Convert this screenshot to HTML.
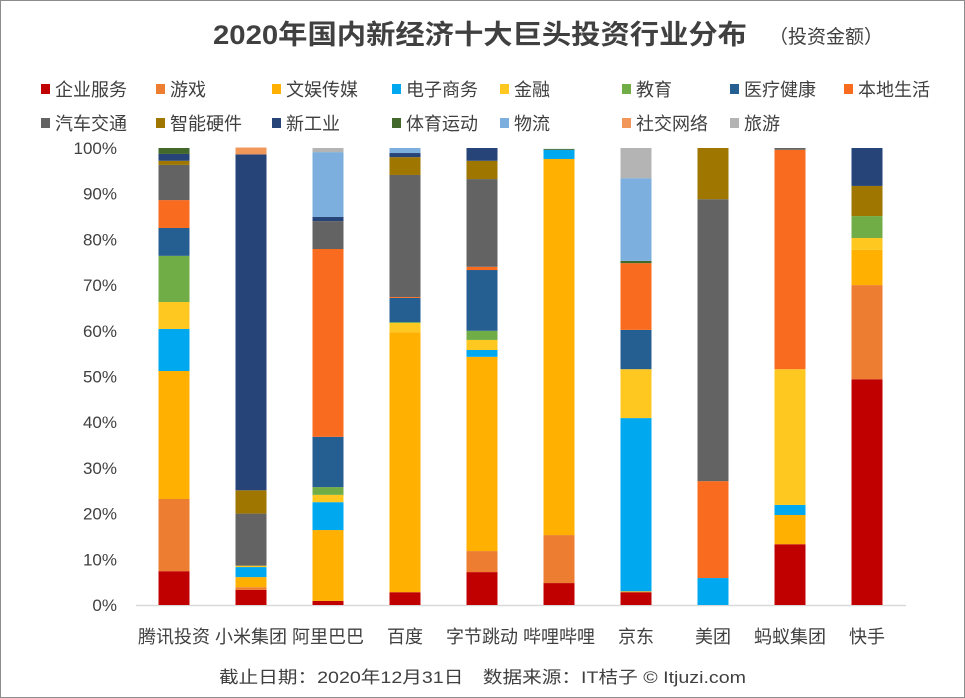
<!DOCTYPE html>
<html><head><meta charset="utf-8">
<style>
html,body{margin:0;padding:0;background:#fff;}
#wrap{position:relative;width:963px;height:696px;border:1px solid #8c8c8c;overflow:hidden;font-family:"Liberation Sans","Noto Sans CJK SC",sans-serif;}
svg text{font-family:"Liberation Sans","Noto Sans CJK SC",sans-serif;}
</style></head>
<body>
<div id="wrap">
<svg id="chart" width="963" height="696">
<text x="212" y="43" font-size="27" font-weight="bold" fill="#404040" textLength="534" lengthAdjust="spacingAndGlyphs">2020年国内新经济十大巨头投资行业分布</text>
<text x="768" y="42" font-size="19" fill="#404040">（投资金额）</text>
<g id="legend"></g>
<g id="grid"></g>
<g id="bars"></g>
<g id="xlabels"></g>
<text x="218" y="682" font-size="17" fill="#404040" textLength="527" lengthAdjust="spacingAndGlyphs">截止日期：2020年12月31日　数据来源：IT桔子 © Itjuzi.com</text>
</svg>
</div>
<script>
const categories = ["腾讯投资","小米集团","阿里巴巴","百度","字节跳动","哔哩哔哩","京东","美团","蚂蚁集团","快手"];
const seriesNames = ["企业服务","游戏","文娱传媒","电子商务","金融","教育","医疗健康","本地生活","汽车交通","智能硬件","新工业","体育运动","物流","社交网络","旅游"];
const seriesColors = ["#C00000","#ED7D31","#FFB000","#00A8F0","#FFC820","#70AD47","#255E91","#F96B1E","#636363","#9E7600","#264478","#43682B","#7CAFDD","#F1975A","#B4B4B4"];
const s_qiye   = [7.4, 3.3, 0.9, 2.8, 7.2, 4.8, 2.8, 0, 13.3, 49.4];
const s_youxi  = [15.8, 0.6, 0, 0, 4.6, 10.5, 0, 0, 0, 20.6];
const s_wenyu  = [28.0, 2.2, 15.5, 56.9, 42.5, 82.3, 0.2, 0, 6.4, 7.7];
const s_dianzi = [9.2, 2.2, 6.1, 0, 1.5, 2.0, 37.9, 5.9, 2.2, 0];
const s_jinrong= [5.9, 0.3, 1.6, 2.0, 2.2, 0, 10.7, 0, 29.7, 2.6];
const s_jiaoyu = [10.1, 0, 1.7, 0.2, 2.0, 0, 0, 0, 0, 4.8];
const s_yiliao = [6.1, 0, 11.0, 5.3, 13.3, 0, 8.6, 0, 0, 0];
const s_bendi  = [6.1, 0, 41.1, 0.2, 0.7, 0, 14.6, 21.2, 48.0, 0];
const s_qiche  = [7.7, 11.4, 6.1, 26.7, 19.2, 0, 0, 61.7, 0.4, 0];
const s_yingjian=[0.9, 5.1, 0, 3.9, 4.0, 0, 0, 11.2, 0, 6.6];
const s_xingong= [1.5, 73.5, 0.9, 0.9, 2.8, 0, 0, 0, 0, 8.3];
const s_tiyu   = [1.3, 0, 0, 0, 0, 0.2, 0.5, 0, 0, 0];
const s_wuliu  = [0, 0, 14.2, 1.1, 0, 0, 18.1, 0, 0, 0];
const s_shejiao= [0, 1.5, 0, 0, 0, 0, 0, 0, 0, 0];
const s_lvyou  = [0, 0, 0.9, 0, 0, 0, 6.6, 0, 0, 0];
const yTicks = [0,10,20,30,40,50,60,70,80,90,100];

const series=[s_qiye,s_youxi,s_wenyu,s_dianzi,s_jinrong,s_jiaoyu,s_yiliao,s_bendi,s_qiche,s_yingjian,s_xingong,s_tiyu,s_wuliu,s_shejiao,s_lvyou];
const NS="http://www.w3.org/2000/svg";
const x0=135,x1=905,y0=604,y1=147;
const yScale=v=>y0-(v/100)*(y0-y1);
const band=(x1-x0)/categories.length;
const xCenter=i=>x0+band*(i+0.5)-0.5;
const bw=31;
function mk(tag,attrs,parent){const e=document.createElementNS(NS,tag);for(const k in attrs)e.setAttribute(k,attrs[k]);parent.appendChild(e);return e;}

const grid=document.getElementById('grid');
yTicks.forEach(t=>{
  const tx=mk('text',{x:116,y:yScale(t)+6,'font-size':17,fill:'#404040','text-anchor':'end'},grid);
  tx.textContent=t+'%';
  
  
});
const axis=mk('line',{x1:x0,x2:x1,y1:y0+0.5,y2:y0+0.5,stroke:'#d9d9d9','stroke-width':1.5},grid);



const bars=document.getElementById('bars');
categories.forEach((c,i)=>{
  let cum=0;
  series.forEach((s,k)=>{
    const v=s[i];
    if(v<=0)return;
    const top=yScale(cum+v),bot=yScale(cum);
    const r=mk('rect',{x:xCenter(i)-bw/2,y:top,width:bw,height:bot-top,fill:seriesColors[k]},bars);
    
    
    cum+=v;
  });
});

const xl=document.getElementById('xlabels');
categories.forEach((c,i)=>{
  const t=mk('text',{x:xCenter(i),y:642,'font-size':18,fill:'#404040','text-anchor':'middle'},xl);
  t.textContent=c;
  
  
});

const legend=document.getElementById('legend');
const lx=[44,159,275,395,503,625,733,847];
seriesNames.forEach((n,k)=>{
  const row=Math.floor(k/8),col=k%8;
  const gx=lx[col],gy=row?122:88;
  const g=mk('g',{},legend);
  
  
  mk('rect',{x:gx-4,y:gy-5,width:9,height:10,fill:seriesColors[k]},g);
  const t=mk('text',{x:gx+10,y:gy+7,'font-size':18,fill:'#404040'},g);
  t.textContent=n;
});
</script>
</body></html>
